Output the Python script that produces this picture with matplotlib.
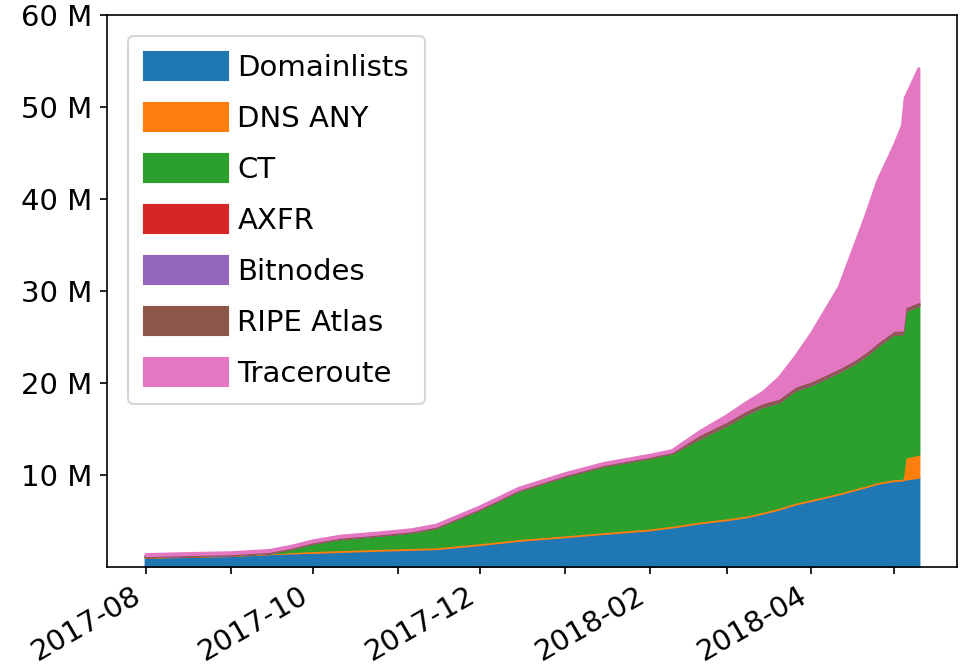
import numpy as np
import pandas as pd
import matplotlib
matplotlib.use("Agg")
import matplotlib.pyplot as plt
import matplotlib.dates as mdates
from matplotlib.ticker import FuncFormatter, FixedLocator

# snapshot dates
dates = ["2017-08-01", "2017-08-15", "2017-09-01", "2017-09-15", "2017-09-23",
         "2017-10-01", "2017-10-11", "2017-10-25", "2017-11-06", "2017-11-15",
         "2017-12-01", "2017-12-15", "2018-01-01", "2018-01-15", "2018-02-01",
         "2018-02-09", "2018-02-19", "2018-03-01", "2018-03-08", "2018-03-14",
         "2018-03-20", "2018-03-26", "2018-04-01", "2018-04-06", "2018-04-11",
         "2018-04-16", "2018-04-21", "2018-04-25", "2018-05-01", "2018-05-04",
         "2018-05-05", "2018-05-10"]

# per-source counts, in millions
domainlists = [1.10, 1.20, 1.30, 1.50, 1.58, 1.65, 1.75, 1.88, 1.98, 2.05,
               2.50, 2.95, 3.35, 3.70, 4.10, 4.40, 4.85, 5.20, 5.50, 5.90,
               6.35, 6.90, 7.30, 7.65, 8.00, 8.40, 8.80, 9.15, 9.45, 9.50,
               9.60, 9.80]
dns_any = [0.05, 0.05, 0.05, 0.05, 0.15, 0.20, 0.20, 0.20, 0.20, 0.20,
           0.20, 0.20, 0.20, 0.20, 0.20, 0.20, 0.20, 0.20, 0.20, 0.20,
           0.20, 0.20, 0.20, 0.20, 0.20, 0.20, 0.20, 0.20, 0.20, 0.20,
           2.40, 2.50]
ct = [0.00, 0.00, 0.00, 0.05, 0.32, 0.80, 1.20, 1.42, 1.67, 2.10,
      3.65, 5.20, 6.40, 7.15, 7.65, 7.85, 9.00, 10.10, 11.00, 11.40,
      11.45, 12.20, 12.40, 12.75, 13.10, 13.50, 14.10, 14.75, 15.75, 15.70,
      15.90, 16.20]
axfr = [0.02] * 16 + [0.03] * 16
bitnodes = [0.03] * 16 + [0.07] * 16
ripe_atlas = [0.10] * 16 + [0.30] * 16
traceroute = [0.10, 0.10, 0.10, 0.10, 0.10, 0.10, 0.10, 0.10, 0.10, 0.10,
              0.10, 0.10, 0.10, 0.10, 0.10, 0.10, 0.30, 0.60, 0.80, 1.10,
              2.20, 3.20, 5.20, 7.00, 8.80, 12.00, 15.00, 17.50, 20.00, 22.20,
              22.70, 25.30]

labels = ["Domainlists", "DNS ANY", "CT", "AXFR", "Bitnodes", "RIPE Atlas",
          "Traceroute"]

x = pd.to_datetime(dates)
ys = [domainlists, dns_any, ct, axfr, bitnodes, ripe_atlas, traceroute]

plt.rcParams.update({'font.size': 14})

fig = plt.figure(figsize=(961 / 150, 665 / 150), dpi=150)
ax = fig.add_axes([107 / 961, 1 - 567 / 665, 850 / 961, 552 / 665])

polys = ax.stackplot(x, *ys, labels=labels)
for p in polys:
    p.set_edgecolor(p.get_facecolor())
    p.set_linewidth(1.5)

ax.set_ylim(0, 60)
ax.yaxis.set_major_locator(FixedLocator([10, 20, 30, 40, 50, 60]))
ax.yaxis.set_major_formatter(FuncFormatter(lambda v, pos: "%d M" % v))

# a tick every month, a label every second month
ax.xaxis.set_major_locator(mdates.MonthLocator())
ax.xaxis.set_major_formatter(FuncFormatter(
    lambda v, pos: mdates.num2date(v).strftime("%Y-%m")
    if mdates.num2date(v).month % 2 == 0 else ""))
plt.setp(ax.get_xticklabels(), rotation=30, ha="right")

ax.legend(loc="upper left", handlelength=2.85, handleheight=1.05,
          handletextpad=0.35, labelspacing=0.74, borderaxespad=0.72,
          borderpad=0.55)

fig.savefig("out.png", dpi=150)
